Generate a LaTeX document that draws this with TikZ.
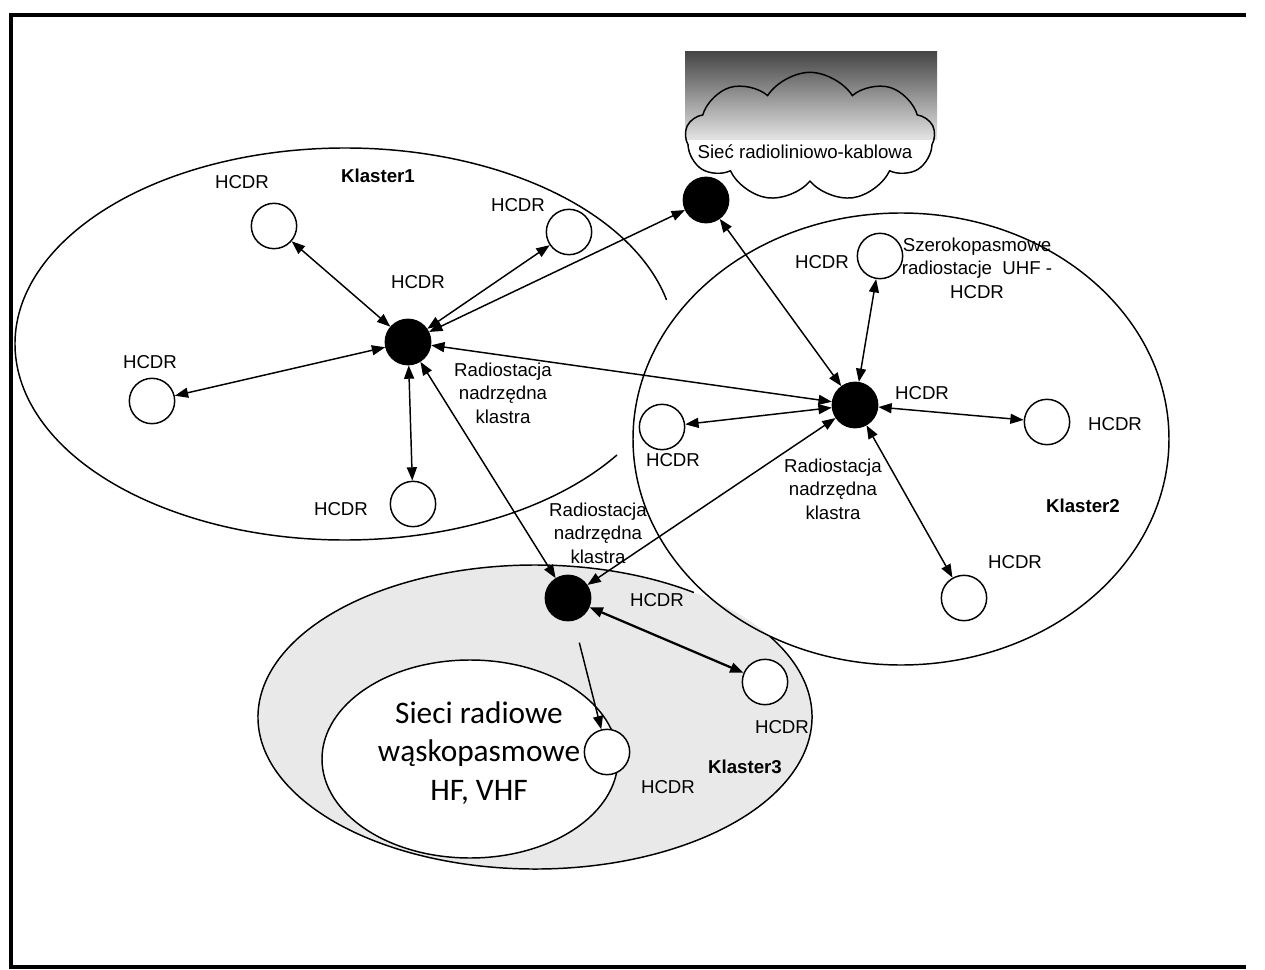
\documentclass[tikz,border=0pt]{standalone}
\usepackage{fontspec}
\setmainfont{Liberation Sans}
\newfontfamily\calibfont{Carlito}
\usetikzlibrary{arrows.meta,shapes.symbols}

\tikzset{every picture/.style={line width=1.1pt}}
\tikzset{
  hcdr/.style={circle,draw,fill=white,minimum size=34pt,inner sep=0pt},
  master/.style={circle,draw,fill=black,minimum size=34pt,inner sep=0pt},
  lbl/.style={inner sep=0.75pt,align=center,font=\fontsize{14}{17.6}\selectfont},
  link/.style={{Triangle[length=10pt,width=7.5pt]}-{Triangle[length=10pt,width=7.5pt]}},
  tolink/.style={-{Triangle[length=10pt,width=7.5pt]}},
}
\definecolor{klgray}{RGB}{233,233,233}
\definecolor{skydark}{RGB}{70,70,70}
\definecolor{skylight}{RGB}{228,228,228}

\begin{document}
\begin{tikzpicture}[x=0.75pt,y=0.75pt,yscale=-1,xscale=1]
\fill [white] (0,0) rectangle (1265,970) ;
\useasboundingbox (0,0) rectangle (1265,970);

%Shape: Frame
\draw [line width=3pt] (1246,15) -- (11,15) -- (11,967) -- (1246,967) ;

%Shape: Ellipse Klaster3
\fill [klgray] (535,717) ellipse [x radius=277, y radius=152] ;
\draw (535,717) ++(-32:277 and 152) arc [start angle=-32, end angle=305, x radius=277, y radius=152] ;
%Shape: Ellipse waskopasmowe
\draw [fill=white] (470,759) ellipse [x radius=148, y radius=99] ;
%Shape: Ellipse Klaster1
\draw (345,344) ++(34.5:330 and 196) arc [start angle=34.5, end angle=347, x radius=330, y radius=196] ;
%Shape: Ellipse Klaster2
\draw (901,439) ellipse [x radius=268, y radius=226] ;

%Shape: Cloud
\shade [top color=skydark, bottom color=skylight] (685,52) rectangle (937,140) ;
\node [cloud, draw, cloud puffs=9, cloud puff arc=115, cloud ignores aspect, minimum width=187pt, minimum height=97pt] (cloud) at (810,137) {} ;

% Master stations
\node [master] (m1) at (408,342) {} ;
\node [master] (m2) at (855,405) {} ;
\node [master] (m3) at (568,598) {} ;
\node [master] (gw) at (706,200) {} ;

% HCDR stations
\node [hcdr] (a1) at (274,226) {} ;
\node [hcdr] (a2) at (569,232) {} ;
\node [hcdr] (a3) at (152,401) {} ;
\node [hcdr] (a4) at (413,504) {} ;
\node [hcdr] (b1) at (880,256) {} ;
\node [hcdr] (b2) at (662,427) {} ;
\node [hcdr] (b3) at (1047,422) {} ;
\node [hcdr] (b4) at (964,598) {} ;
\node [hcdr] (c1) at (765,682) {} ;
\node [hcdr] (c2) at (607,752) {} ;

% Links
\draw [link] (m1) -- (a1) ;
\draw [link] (m1) -- (a2) ;
\draw [link] (m1) -- (a3) ;
\draw [link] (m1) -- (a4) ;
\draw [link] (m1) -- (gw) ;
\draw [link] (m1) -- (m2) ;
\draw [link] (m1) -- (m3) ;
\draw [link] (m2) -- (gw) ;
\draw [link] (m2) -- (b1) ;
\draw [link] (m2) -- (b2) ;
\draw [link] (m2) -- (b3) ;
\draw [link] (m2) -- (b4) ;
\draw [link] (m2) -- (m3) ;
\draw [link, line width=1.7pt] (m3) -- (c1) ;
\draw [tolink, shorten <=17pt] (m3) -- (c2) ;

% Text Node
\node [lbl] (cloudtxt) at (805,152) {Sieć radioliniowo-kablowa} ;
\node [lbl, font=\fontsize{14}{17.6}\bfseries] (k1) at (378,176) {Klaster1} ;
\node [lbl, font=\fontsize{14}{17.6}\bfseries] (k2) at (1083,506) {Klaster2} ;
\node [lbl, font=\fontsize{14}{17.6}\bfseries] (k3) at (745,767) {Klaster3} ;
\node [lbl] (la1) at (242,182) {HCDR} ;
\node [lbl] (la2) at (518,205) {HCDR} ;
\node [lbl] (la3) at (150,362) {HCDR} ;
\node [lbl] (la4) at (341,509) {HCDR} ;
\node [lbl] (lm1) at (418,282) {HCDR} ;
\node [lbl] (lb1) at (822,262) {HCDR} ;
\node [lbl] (lb2) at (673,460) {HCDR} ;
\node [lbl] (lb3) at (1115,424) {HCDR} ;
\node [lbl] (lb4) at (1015,562) {HCDR} ;
\node [lbl] (lm2) at (922,393) {HCDR} ;
\node [lbl] (lm3) at (657,600) {HCDR} ;
\node [lbl] (lc1) at (782,727) {HCDR} ;
\node [lbl] (lc2) at (668,787) {HCDR} ;
\node [lbl] (uhf) at (977,268) {Szerokopasmowe\\radiostacje\ \ UHF -\\HCDR} ;
\node [lbl] (rm1) at (503,393) {Radiostacja\\nadrzędna\\klastra} ;
\node [lbl] (rm2) at (833,489) {Radiostacja\\nadrzędna\\klastra} ;
\node [lbl] (rm3) at (598,533) {Radiostacja\\nadrzędna\\klastra} ;
\node [inner sep=0.75pt, align=center, font=\calibfont\fontsize{23.5}{29}\selectfont] (narrow) at (479,753) {Sieci radiowe\\wąskopasmowe\\HF, VHF} ;
\end{tikzpicture}
\end{document}
